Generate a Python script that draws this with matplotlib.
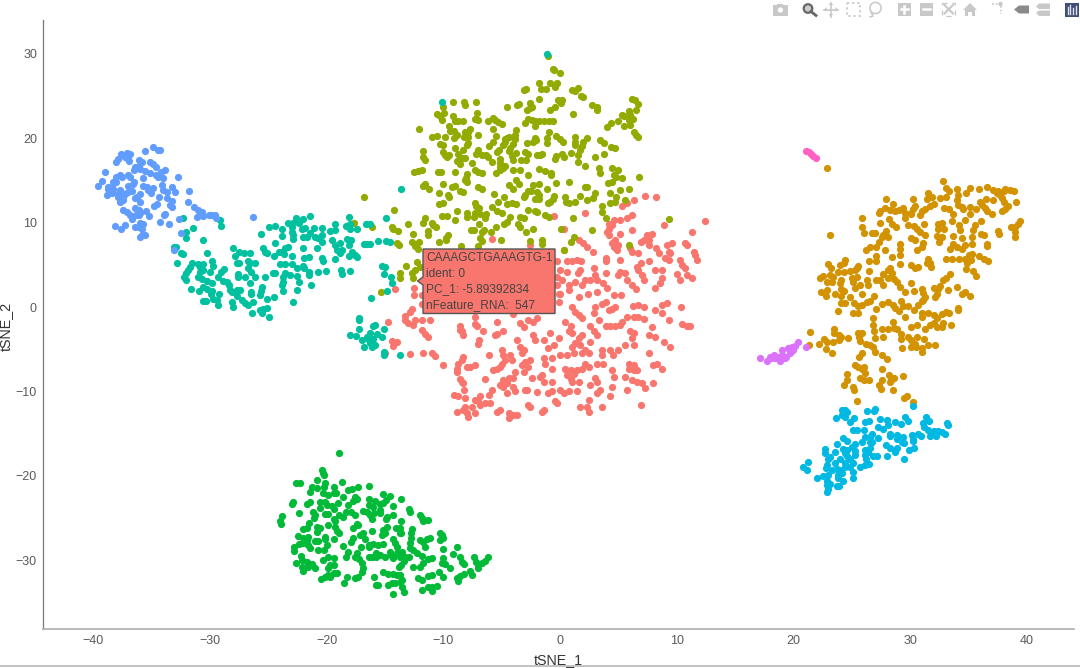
import matplotlib
matplotlib.use("Agg")
import matplotlib.pyplot as plt
from matplotlib.patches import Polygon, Rectangle, Circle
from matplotlib.lines import Line2D
from matplotlib.transforms import Affine2D

plt.rcParams['font.family'] = ['Liberation Sans', 'DejaVu Sans']

cluster_0 = [(7.3,13.2),(8.25,13.1),(5.7,12.3),(5.3,12),(6.3,12.7),(-.55,10.8),(2.16,11.1),(6.16,10.9),(5.7,10.5),(5.16,10.3),(4.6,10.3),(4.16,9.9),(4.45,9.7),(8.9,9.7),(12.4,10.2),(.3,9.3),(4.16,9.3),(4,8.9),(4.16,8.5),(6.2,9.1),(5.1,8.7),(11.3,8.9),(7.9,8.7),(7.45,8.5),(7.16,7.9),(6.9,7.75),(7.6,7.9),(4.7,7.9),(4.45,7.55),(5,7.35),(4.6,7.15),(-5.84,8.1),(-2.55,7.35),(2,7.55),(2.3,7.15),(2.8,6.55),(1.6,7.9),(4.9,6.8),(6,7),(6.16,6.55),(6.7,6.4),(7.6,7.35),(8.2,7),(8.45,6.4),(10.7,7.55),(10.9,7.35),(9.6,7.55),(9.16,7.35),(9.3,6.55),(9.45,6.4),(11.45,6.55),(11.6,6.2),(11.75,5.6),(9,5.8),(9.3,5.6),(10.25,5.6),(10.45,5),(10.7,4.6),(10.9,3.8),(10,3.9),(10.3,3.2),(11.3,3.4),(8.16,4.4),(8.7,4.4),(8.7,3.4),(8.6,2.8),(8.16,2.3),(7.6,5.4),(6.9,5.2),(6.6,4.8),(6.7,4.4),(7,3.8),(7.16,3.2),(5.7,3.2),(6.2,2.6),(6.5,2.1),(5.16,5.6),(3.9,5.8),(3.9,5.4),(5.16,4.2),(5,3.8),(5.6,4),(3.9,4),(3.16,3.2),(3.7,2.8),(2.95,4.6),(3,3.8),(2.6,3.2),(2.16,3.2),(1.9,2.6),(1.7,4.4),(1.5,4),(1.3,3),(.6,5.4),(1,5.5),(1.45,5.6),(1.8,5.4),(.02,4.4),(.6,4.2),(.16,3.2),(.8,2.6),(.73,2),(-.1,1.6),(3.16,1.8),(2.36,1.6),(4,2.2),(4.65,1.4),(5.2,1.4),(1.6,1.2),(-.1,.6),(9.16,.45),(8.7,.2),(10.4,0),(6.25,.1),(6.7,.2),(7.16,0),(3.6,.4),(3.9,.6),(4.7,0),(4.45,-.2),(4.16,-.4),(1,0),(1.3,-.6),(1.6,-1),(1.9,-1.35),(3,0),(2.9,-.7),(8.16,-.35),(8.7,-.75),(9.3,-1.55),(5.7,-1.2),(6.3,-1.15),(6.7,-1.15),(7.2,-1.45),(10.45,-2),(10.9,-2.3),(11.16,-2.3),(.45,-1.74),(.9,-2.3),(.73,-2.9),(1,-3.1),(2.6,-2.26),(3.3,-1.6),(3.9,-2.2),(4.3,-2.2),(4.7,-2.2),(5.3,-1.74),(5.1,-2.15),(6,-2.9),(6.3,-3.1),(6.16,-3.7),(6.3,-4.5),(7.9,-2.35),(7.6,-3.3),(8.16,-3.5),(8.9,-4.1),(9.45,-4.7),(-.84,-3.1),(-2.3,-3.3),(-2.1,-3.9),(-1.4,-3.9),(2.9,-2.9),(3.16,-3.3),(1.9,-3.3),(1.6,-3.7),(-.1,-3.7),(-.55,-4.5),(-1,-4.9),(2.6,-4.1),(1.3,-4.3),(1.7,-4.5),(1,-4.7),(2.16,-5.1),(2.45,-5.5),(1.9,-5.5),(1.16,-5.5),(.6,-5.7),(.02,-5.7),(3.6,-5.1),(4.3,-5.1),(5,-5.1),(5.6,-4.5),(4.5,-5.7),(7.6,-5.5),(3.6,-5.7),(-3.7,-3.9),(-3.4,-4.7),(-3.1,-5.1),(-3.25,-5.5),(-5,-5.1),(-4.84,-5.7),(-4.7,-6.3),(-5,-6.7),(-5.1,-7.1),(-5.4,-7.3),(-5.7,-7.5),(-4.25,-5.7),(-4.1,-6.3),(-6.1,-5.7),(-8.3,-5.9),(-8.4,-6.3),(-8.7,-6.7),(-8.84,-7.3),(-8.84,-7.7),(-10,-6.9),(-8,-7.1),(-7.7,-7.1),(-7.27,-6.9),(-8.55,-8.5),(-8.4,-8.85),(-8.27,-9.05),(-6.4,-8.5),(-3,-6.5),(-2.55,-6.3),(-3.25,-6.9),(-2.7,-7.1),(-3.84,-7.7),(-3.1,-7.7),(-4.84,-8.65),(-4.4,-8.45),(-4,-8.45),(-5.1,-9.25),(-4.84,-9.45),(-4.55,-9.05),(-4,-9.45),(-3.84,-10),(-4.55,-10.2),(-1.55,-8.1),(-1.7,-8.3),(-1.4,-8.85),(-.7,-8.85),(-2.4,-8.45),(-2.84,-9.85),(-2,-10.05),(-3,-9.85),(-1.4,-6.1),(-.7,-6.1),(-1.3,-6.7),(-.7,-7.3),(.45,-7.3),(.9,-7.5),(1.45,-7.5),(1.9,-7.3),(2.16,-6.7),(.6,-8.1),(1.16,-7.9),(.9,-8.5),(1.6,-8.85),(1,-8.85),(.02,-9.85),(.3,-10.2),(.73,-10),(1.45,-10),(-.7,-10),(-1,-10.2),(-.4,-11.2),(-.27,-11.4),(3.16,-6.7),(3.7,-6.7),(4.45,-7.5),(4.6,-8.3),(3,-8.45),(3.16,-8.85),(2.6,-9.25),(2.45,-7.1),(5.9,-6.7),(5.9,-7.3),(6.3,-6.9),(6.3,-7.5),(6.6,-7.5),(5.6,-8.3),(6.16,-8.65),(6.6,-8.85),(7,-9.05),(5.7,-9.85),(7.3,-9.65),(8,-9.05),(8,-6.9),(8.3,-6.7),(8.7,-7.3),(4.45,-9.45),(3.45,-9.85),(3.16,-10.2),(4.3,-10.6),(6.9,-11.6),(2.45,-11),(2.3,-11.8),(2.45,-12.4),(1.7,-11.8),(3.6,-11.8),(-1.4,-12.2),(-1.55,-12.4),(-2.55,-11.8),(-2.7,-11.6),(-9.1,-10.4),(-8.7,-10.6),(-8.1,-10.8),(-7.3,-11),(-6.84,-10.6),(-6.1,-10.4),(-5.84,-9.85),(-8.2,-9.85),(-6.4,-11.4),(-6.84,-11.6),(-7,-11.2),(-8.1,-11.8),(-7.55,-11.8),(-8.27,-12.2),(-8,-12.6),(-7.84,-13),(-7.27,-12.6),(-8.84,-12.4),(-6,-11.4),(-5.4,-12.4),(-5.1,-12.2),(-4.4,-12.6),(-4.4,-13.2),(-4,-12.8),(-3.7,-12.8),(-14.1,2.1),(-12.5,2.3),(-12.5,1.4),(-11.84,1.4),(-11.84,.4),(-12.7,-.2),(-12.84,-.6),(-13.27,-1.1),(-13.27,-1.55),(-13,-1.95),(-12.55,-2.15),(-12.4,-1.55),(-11.84,-1.55),(-11.1,-1.55),(-11.84,-2.75),(-11.55,-3.15),(-11.35,-3.5),(-14.75,-1.8),(-14.4,-4),(-14,-4.2),(-14.3,-4.6),(-15,-5.5),(-12.84,-5.6),(-11.75,-5.5),(-11,-5.5),(-10.7,-5.8),(-8.55,-2.3),(-8.4,-2.9),(-8.3,-3.3),(-8.55,-2.7),(-7.3,-1.15),(-7.3,-2),(-7.15,-2.3),(-6.6,-2.8),(-5.4,-3.2),(-5.6,-3.3),(-4.84,-2.9),(-6.9,-3.9),(-7,-4.4),(-5.4,-1.75),(-3.4,-1.95),(-3.1,-2.35),(-2,-1.35),(-2.3,-1.75),(-2.7,-1.55),(-4,-.85),(-.27,5.4),(-.27,3.6),(-.27,2.6),(.02,1.6),(.36,6.75)]

cluster_1 = [(22.9,16.5),(32.85,14.9),(33.1,14.15),(33.36,13.8),(34,14),(34.1,13.3),(34.05,12.7),(34.1,12.1),(34.8,13.55),(35.15,14.1),(35.9,14),(36.6,14.2),(37.1,13.9),(37.56,13.75),(37.4,13.5),(37.7,13.3),(38.1,13.95),(38.56,13.9),(38.85,13.8),(38,13.7),(37.85,12.9),(38,12.4),(37.1,12.7),(36.5,12.75),(36,12.5),(36.15,12.1),(36.4,11.7),(36.6,11.4),(37,11),(39.05,12.4),(38.4,12),(38.1,11.6),(37.9,11.4),(35.6,11.6),(35.1,11.8),(34.5,11.6),(34.4,11.9),(35.1,11),(33.7,11),(33.36,11.6),(32.9,11.7),(33.1,13.1),(32.56,12.9),(31.85,13.1),(31.4,12.8),(31.5,13.5),(32,12.2),(31.7,12),(31.3,11.6),(31,11.4),(30.85,10.9),(30.2,12.8),(30.4,12),(30.2,11.6),(30.1,11.1),(30.1,11),(29.4,11.7),(29.56,11.1),(29.56,10.6),(29,11.5),(28.7,11.4),(28.3,11.5),(28.5,12.2),(27.85,11.7),(27.4,11.4),(27.3,11.2),(27.9,12.8),(25.85,10.5),(25.9,9.45),(26,8.75),(27.4,10),(28.2,10.4),(28.4,9.8),(28.8,9.45),(26.7,8.75),(27,8.8),(27.9,9.05),(27.7,8.5),(28.1,8.3),(27.56,8.25),(27.3,7.75),(27.1,7.15),(26.56,7.1),(26.2,6.75),(27.85,6.75),(29.1,7.45),(29.1,6.85),(29.1,6.15),(29.85,9.7),(30.3,9.6),(30.56,9.3),(30.85,8.85),(31.3,8.55),(31.2,9.85),(30.1,8.2),(30.4,7.95),(31.1,7.6),(31,7.1),(30.56,6.75),(32.4,9.9),(32.7,10),(32.35,9.25),(32.9,9.3),(32.3,8.45),(32.7,8.25),(32.5,7.75),(33.56,10.2),(34.2,9.7),(34.7,10.3),(33.7,8.45),(34.4,8.15),(35.3,8.35),(34.3,9.1),(36.1,10.2),(35.56,9.7),(35.4,9.1),(36.1,8.7),(36.3,8.5),(37.56,9.05),(37.6,8.65),(38.6,9.45),(39,9.45),(39,8.9),(39,8.25),(39.2,9.9),(39.4,10.2),(36.56,7.5),(36.6,7.25),(33.7,7.5),(33.4,6.9),(34,7.1),(34.4,6.9),(34.7,7.35),(35.3,7.5),(33.1,5.75),(33.56,5.75),(34.15,5.7),(34.7,5.7),(35,6.15),(35.3,6.3),(35.2,5.55),(34.85,5.25),(35.9,6.1),(36.3,5.75),(36.65,5.5),(34.8,4.45),(35.4,4.3),(35.65,3.65),(31.56,5.75),(31.4,5.25),(31.7,5.2),(31.75,4.8),(30.1,5),(30.4,4.6),(30.7,4.8),(29.1,5.1),(28.4,5.9),(27.1,6),(27.1,5.5),(26.5,5.4),(26.5,4.3),(23,5.1),(23.2,4.6),(24,5),(24.3,5.2),(24.45,5.55),(23.85,4.2),(24.3,4.1),(24.85,4.25),(25.3,4.4),(25.56,4.85),(25.4,4.6),(22.3,3.4),(22.56,3.65),(23.1,3.8),(23.4,3.5),(22.85,3),(23.3,3),(24.1,3.2),(24,2.8),(25,3.4),(25.4,3.6),(25.1,3),(25.3,2.2),(25.7,2.6),(26.3,3.2),(26.4,2.6),(27.1,3.2),(27.4,3.2),(27.65,3.9),(28.1,4.4),(28.3,4.6),(28.4,4),(28.1,3.4),(27.65,2.6),(28.6,3.3),(28.85,3),(29.1,2.4),(29.56,1.8),(30.1,2.8),(30.3,1.9),(31,2.1),(31.1,1.7),(31.3,1.2),(33.4,3.9),(33.1,3.4),(32.85,3.2),(32.56,2.5),(32.4,2.1),(32.3,1.6),(32.1,1.2),(32,2.2),(33.2,2),(34,2.4),(34.4,1.55),(34.7,1.8),(35.1,1.35),(22.4,1.8),(22.9,2),(22.8,1.3),(23.56,1.55),(24.1,2.1),(24.3,1.9),(24.1,1.3),(24.85,1.2),(25.85,1.6),(26.9,1.3),(26.56,.75),(26.3,.55),(25.85,.25),(25.56,.15),(25.2,.5),(24.1,.45),(24.4,.5),(23.8,-.5),(25.1,-.75),(25.5,-.75),(27.1,-.25),(27.6,.35),(28.1,.65),(28.5,.25),(28.7,-.15),(29,-.5),(29.2,.7),(29.4,.15),(29.85,.15),(30.3,-.35),(29.56,-1.15),(31,.75),(31.1,.85),(30.7,.25),(31,-.75),(31,-1.2),(31.5,-.75),(32,-.95),(32.3,-1.35),(32.7,-.85),(33.1,-.55),(33.36,-.7),(34.1,-.1),(34.1,-.35),(32.85,-1.95),(33.5,-2.15),(26.85,-1.25),(26.85,-2.15),(26.9,-2.9),(27,-3.7),(28.5,-1.75),(28.6,-2.45),(28.85,-2.65),(29.2,-3.2),(27.56,-2.65),(28.1,-2.55),(27.7,-3.5),(29.2,-3.8),(30.1,-2.35),(30.56,-2.15),(29.85,-3.5),(30.1,-3.9),(30.56,-3.5),(30.4,-4.4),(30.05,-4.8),(30.5,-4.7),(31.05,-4.9),(31.05,-5.3),(31.3,-2.55),(31.7,-2.15),(32,-1.95),(32.3,-2.35),(32.7,-2.35),(31.2,-3.85),(31.56,-4.5),(32.1,-4.5),(29.3,-4.9),(21.4,-3),(21.3,-4.5),(22.2,-4.4),(22.6,-3.85),(22.9,-4.2),(23.35,-4.1),(22.75,-5),(23.3,-5.4),(23.5,-2.6),(23.5,-3.1),(23.9,-3.3),(24.1,-3.5),(23.9,-3.9),(24.65,-3.7),(25.56,-3.1),(25.85,-3.05),(25.65,-3.5),(25.7,-4.05),(26.2,-4.4),(26.56,-4.5),(26.85,-4.8),(27,-5.3),(27.56,-5.7),(28.05,-6.2),(25.9,-5.4),(25.65,-5.9),(25.3,-6.9),(25.56,-7.1),(25.85,-7.3),(26,-7.1),(26.1,-7.85),(27.56,-7.4),(24.56,-8),(24.56,-8.65),(24.3,-9.3),(25.1,-9.45),(25.2,-9.9),(25.7,-8.45),(26,-8.65),(26.5,-8.65),(27.56,-8.65),(28.2,-8.05),(28.35,-8.6),(28.6,-8.45),(28.3,-8.95),(29.4,-8.2),(27.3,-9.3),(27.5,-9.7),(28.5,-9.9),(29.7,-10.6),(29.5,-10.8),(25.4,-11.1),(30.2,-11.3),(23.1,8.55)]

cluster_2 = [(-1.07,29.8),(-.6,28.2),(-.55,28.05),(0,27.8),(-1.84,26.6),(-.84,26.6),(-.27,26.6),(-.4,26.1),(-3.1,25.7),(-2.9,25.8),(-1.64,25.8),(-1.2,25.8),(1.07,25.7),(1.5,26),(1.3,25.6),(1.8,25),(2,24.9),(-1.84,24.7),(-.13,24.5),(.16,24.6),(.1,24.2),(-3.7,24),(-3.5,24.1),(-4.55,23.75),(-2.6,24.2),(-2.4,23.75),(-2.84,23.4),(-2.6,23.55),(-.84,23.4),(-.47,23.75),(2.7,23.95),(3.16,23.75),(3.16,23.4),(6.16,24.7),(6.45,24.5),(6.65,24.1),(6.5,23.4),(5.9,23.2),(6,22.8),(5.3,22.8),(5.5,22.6),(6.25,22.25),(5.9,22.2),(5,22),(4.36,21.8),(4,21.3),(5.5,21.5),(6,21.55),(6.3,20.7),(6.5,20.4),(6.7,20.1),(1.1,22.9),(-2.75,22.3),(-2.4,22.2),(-2.1,22),(-1.8,22),(-1.4,22),(-.9,22),(-.6,22),(-3,21.8),(-2.1,21.5),(-9.2,24.35),(-8.2,24.35),(-8.1,24),(-7.2,24.3),(-10,23.75),(-9.9,23),(-10.5,22.9),(-10.3,22.6),(-10.1,22.2),(-9.2,22.65),(-7.1,23),(-7.3,22.25),(-7,22.2),(-9,22),(-8.7,22),(-8.35,22.1),(-9.55,21.5),(-9.4,20.9),(-9.1,20.9),(-12.1,21.1),(-6.15,22),(-5.75,22.4),(-5.55,22.2),(-5.3,21.9),(-5,21.7),(-5.75,21.1),(-7.7,21.1),(-8.1,20.8),(-7.85,20.7),(-7,20.4),(-8.84,20.4),(-9.1,20),(-9.84,20.2),(-10.5,20.3),(-11,20.1),(-8.2,20.1),(-7.85,20.2),(-5.5,20.3),(-3.75,21),(-3.84,20.4),(-4.4,20.2),(-4.7,19.9),(-3.84,19.9),(-5.7,19.6),(-6.07,19.1),(-10.3,19.3),(-10,19.2),(-9,18.9),(-8,19.2),(-7.85,19.4),(-8.3,18.6),(-8.7,18.2),(-7,18.6),(-7.2,18.2),(-11.7,18.5),(-11.75,17.75),(-11.55,17.4),(-10,18.4),(-9.84,18),(-9.55,18),(-9.7,17.8),(-6.7,18),(-6.35,18),(-6.2,17.8),(-8.4,17.7),(-8.1,17.7),(-8.84,17.35),(-8.6,16.9),(-7.55,17.1),(-5.8,17.25),(-5.25,18.6),(-4.55,20),(-4.7,19.6),(-4.84,19.2),(-5.4,18.4),(-4.25,18.8),(-4.4,18.5),(-4,19.3),(-5.1,17.6),(-4.1,17.9),(-4,17.4),(-3.35,17.4),(-2.9,17.4),(-3.75,18.3),(-3,18.4),(-2.7,18.1),(-2,18),(-1.7,18),(-1.55,18.2),(-2.8,19.5),(-2.1,20),(-2.05,19.8),(-2.3,19.6),(-1.1,20),(-1.1,19.5),(-.9,20.7),(-.3,20.3),(0,19.9),(.25,19.6),(1.3,20.2),(1.3,19.6),(1.3,19.2),(2.3,20),(2,19.6),(1.9,19.1),(1.7,18.6),(1.5,18),(3.45,19.8),(3.8,19.4),(4.36,19),(4.7,18.9),(3.8,18.2),(3,17.8),(1.5,17.15),(2.16,16.7),(-.3,17.9),(-.4,17.5),(.16,18.2),(.36,17.75),(.96,18.3),(-5.1,17.1),(-4.7,16.7),(-4.9,16.45),(-5.1,16.6),(-4,16.25),(-3.4,16.3),(-1.8,16.4),(-1.3,16.1),(-.8,15.9),(-.8,15.65),(-5.5,15.9),(-5.1,16.25),(-7.3,16.25),(-7,16),(-6.7,15.9),(-9,15.95),(-10.47,16),(-10.2,16),(-12.5,16),(-12.2,16.1),(-11.84,16.2),(-8,15.8),(-8.04,15.26),(-8.1,15.06),(-8,14.8),(-3.75,15.1),(-3.47,14.6),(-4.4,14.5),(-4,14),(-2.7,15.6),(-2.3,14.5),(-1.84,14.55),(-.3,14.7),(.73,14.8),(-11.55,14.55),(-11.75,14.4),(-11.2,14),(-10,14.6),(-9.27,14.2),(-9,14.4),(-7,14.25),(-6.64,14.05),(-10.4,13.55),(-9.6,13.3),(-9.55,13.1),(-8.55,13.75),(-8.27,13.65),(-5.64,13.4),(-4.8,13.1),(-5.3,12.5),(-5.8,11.9),(-3,13.3),(-2.7,13.7),(-2.5,13.75),(-3.1,13.1),(-2,13.6),(-1.84,13.3),(-2.1,12.8),(-1.8,12.85),(-1.1,14),(-.55,13.2),(-.6,12.8),(-.84,12.5),(-1.07,12.3),(.4,13.1),(.53,12.4),(.8,12.3),(1.3,12.45),(1.7,13.2),(2.3,14.2),(2.16,14.2),(2.3,12.7),(2.8,12.9),(3,13.5),(4.1,14.7),(4.45,14.85),(4.65,15.7),(4.8,15.45),(5.3,15.25),(4.45,16.45),(5,16.3),(3.3,16.45),(3.4,15.85),(5.1,13.9),(5.9,14),(4.25,13.55),(4.8,13),(3.6,12),(4.3,12.3),(4.7,12.4),(5.6,12.7),(6.8,15.45),(3.6,11.3),(3.9,10.5),(9.3,10.4),(-10.4,12.2),(-10,12.3),(-7.3,12.3),(-7.2,12),(-6.9,11.7),(-5.4,11.4),(-5,11.1),(-4.55,12.2),(-4.1,12.3),(-3.75,12.2),(-8.84,11.4),(-10.1,10.8),(-9.7,10.8),(-8,11.1),(-8,10.7),(-7.27,11.1),(-7.4,10.7),(-6.84,11),(-6.35,11),(-6.4,10.5),(-9,10.3),(-2.75,11.5),(-2.1,11.4),(-2,11.3),(-1.3,10.9),(-.95,10.7),(1.1,10.5),(-4.3,10.7),(-4.55,10.1),(-4.8,9.8),(-3.4,10.7),(-3.1,10.5),(-3.6,9.8),(-3.4,9.5),(-6.9,9.8),(-5.5,9.45),(-5.9,8.95),(-6.55,9.1),(-6.7,8.95),(-7.64,9.1),(-7.4,9.1),(-2.9,8.95),(-2.3,9.2),(.07,9.3),(2.7,9.1),(-14.2,11.5),(-16.75,13.1),(-11.6,10.6),(-11.7,10),(-11,10),(-10.84,9.7),(-10.6,9.45),(-11.3,9),(-11.35,8.5),(-13,9.8),(-12.6,8.7),(-14.4,9.5),(-14.3,9.25),(-13.9,9),(-9.6,8.5),(-9.75,8.15),(-9.8,8),(-10.35,7.7),(-14,7.55),(-13.75,7.4),(-12.7,7.75),(-12.1,7.65),(-12.4,7.25),(-12.2,6.85),(-6.84,8.15),(-6.7,7.8),(-5.05,8),(-2.6,7.8),(-1.5,7.95),(-1.55,7.5),(1.16,8.25),(.9,7.65),(5.9,7.3),(-7,7.2),(-8.5,7.2),(.36,6.8),(-16.1,9.5),(-17.64,10),(-12.27,5.3),(-12,4.8),(-12.4,4.4),(-12.7,4),(-12.6,3.4),(-13.7,4),(-13.7,3.4),(-13.2,4.85),(-15.3,1.75)]

cluster_3 = [(-18.93,-17.27),(-20.4,-19.33),(-20.27,-19.72),(-20.2,-19.92),(-20.84,-20.5),(-22.64,-20.9),(-22.27,-20.83),(-20.13,-20.9),(-18.7,-20.8),(-16.36,-21.2),(-17.33,-21.3),(-17.84,-21.58),(-18.2,-21.7),(-19.4,-21.4),(-20.2,-21.4),(-21.27,-21.4),(-21.4,-21.9),(-20.8,-21.5),(-20.27,-22),(-19.84,-22.3),(-19.4,-22.1),(-19.2,-22),(-15.2,-22.2),(-14.6,-22.4),(-14.9,-22.9),(-13.64,-22.77),(-16.36,-22.8),(-15.84,-23),(-17.6,-22.57),(-17.4,-22.8),(-17.7,-23),(-18.6,-22.57),(-22.84,-23.16),(-23,-23.36),(-21.4,-23.16),(-21.7,-23.36),(-20.6,-23.08),(-20.13,-23.08),(-20,-23.48),(-19,-23.28),(-19.56,-23.6),(-18.13,-23.48),(-20.6,-23.87),(-21.13,-24.27),(-21,-24.66),(-21.04,-24.98),(-22.36,-24.47),(-19.4,-23.98),(-19.84,-24.55),(-20.13,-24.55),(-18.93,-24.66),(-18.56,-24.86),(-18.33,-24.27),(-17.9,-24.35),(-17.56,-24.66),(-16.84,-24.2),(-16.55,-24.27),(-16.4,-23.5),(-16,-23.67),(-15.4,-23.3),(-15.13,-23.2),(-15.4,-24.07),(-15.4,-24.47),(-15.9,-24.47),(-16.27,-24.66),(-16.13,-25.18),(-14.27,-23.56),(-14.33,-24.66),(-14.84,-24.86),(-14.93,-25.18),(-12.9,-24),(-12.84,-24.27),(-12,-24.66),(-11.84,-25),(-11.7,-25.4),(-11.27,-25.26),(-13.6,-25.37),(-23.8,-24.8),(-24,-25.37),(-23.9,-25.73),(-19.4,-25.18),(-19.27,-25.37),(-21.47,-25.65),(-19.84,-25.85),(-20.56,-26.24),(-20.84,-26.13),(-20.84,-26.64),(-21.7,-26.24),(-21.98,-26.36),(-19.27,-26.05),(-19.13,-26.52),(-18.93,-26.84),(-17.76,-26.17),(-17.4,-25.77),(-17.27,-25.85),(-16.13,-26.52),(-15.2,-26.44),(-14.84,-26.13),(-14.07,-26.24),(-13.7,-26.24),(-14.98,-26.84),(-15.27,-27),(-12.7,-26.36),(-12.8,-26.84),(-12.8,-27.43),(-12.84,-28),(-12.84,-28.6),(-12.56,-28.8),(-12.27,-29.2),(-11.84,-29.5),(-16.84,-26.84),(-17.13,-27),(-16.7,-27.55),(-17.76,-27.43),(-17.9,-27.82),(-13.7,-26.84),(-14.27,-27.55),(-14.13,-27.94),(-13.98,-28.42),(-13.64,-26.84),(-22.47,-27.1),(-21.98,-27.35),(-21.56,-27.23),(-21.7,-27.63),(-22.36,-28.1),(-21.98,-28),(-21.56,-28.2),(-21.4,-28.6),(-20.98,-27.8),(-20.76,-27.8),(-20.13,-27.23),(-20.13,-27.55),(-19.35,-27.55),(-20.76,-28.8),(-20.2,-28.8),(-20,-28.2),(-22.76,-28.42),(-22.76,-28.9),(-18.56,-28.34),(-17.07,-28.42),(-18.13,-29),(-18.33,-29.7),(-16.36,-28.2),(-15.98,-28.1),(-15.56,-28.2),(-15.2,-28.1),(-16.36,-28.5),(-17.36,-29.2),(-17.56,-29.7),(-17.2,-29.92),(-16.4,-29.7),(-16.13,-29.6),(-15.8,-29.2),(-15.4,-29.4),(-15.8,-29.7),(-15,-29.6),(-14.56,-29),(-14.47,-29.4),(-14.27,-29.8),(-14,-29.2),(-13.56,-29),(-13.7,-29.6),(-13.27,-29.7),(-12.9,-29.6),(-13.4,-30.08),(-13.6,-30.6),(-13.76,-30.8),(-12.6,-30.87),(-12,-30.8),(-11.7,-30.3),(-11.27,-29.92),(-11,-29.8),(-11.98,-27.63),(-11.7,-27.82),(-11.6,-28.42),(-11.4,-27.55),(-11.13,-27.35),(-10.27,-26.76),(-10.13,-27),(-10,-27.35),(-10.27,-27.63),(-10.04,-28.73),(-8.84,-28.42),(-9.13,-29.3),(-8.6,-29.6),(-8.4,-30.2),(-8.2,-30.5),(-10.04,-29.8),(-10.13,-30.4),(-9.84,-30.47),(-9.4,-31),(-10.4,-31.4),(-11,-31.8),(-11.33,-31.9),(-12.13,-32.17),(-11.84,-32.37),(-10.04,-31.97),(-7.4,-29.7),(-7.2,-30.2),(-7,-30.6),(-7,-31),(-6.7,-30.4),(-6.4,-30.08),(-6.13,-29.6),(-7.7,-31.27),(-7.56,-31.8),(-8.2,-31.7),(-8.56,-31.9),(-8.84,-32.17),(-8.76,-32.5),(-11.84,-33.5),(-11.27,-33.16),(-11,-33.16),(-10.56,-33.08),(-11,-33.64),(-14.27,-34.07),(-13.33,-33.8),(-13.56,-33.16),(-15.8,-32.96),(-15.56,-32.96),(-14.76,-32.96),(-14.4,-32.76),(-14.13,-32.7),(-15.9,-32),(-15.13,-31.47),(-14.76,-31.7),(-14.33,-31.6),(-13.93,-31.78),(-13.7,-31.78),(-13.56,-32.37),(-13.7,-32.57),(-18.47,-32.7),(-18.27,-32),(-17.56,-32.17),(-17.33,-32),(-17,-31.4),(-16.9,-31),(-17,-30.4),(-20.47,-32.3),(-20.13,-32),(-19.7,-32),(-19.4,-31.58),(-19.13,-31.5),(-19.84,-31.8),(-19.84,-31),(-19.7,-30.6),(-19.84,-29.6),(-19.33,-29.8),(-19.4,-30.6),(-20.27,-30),(-22.2,-29.5),(-22.13,-30),(-22.64,-30.3),(-21.7,-30.2),(-22.13,-30.8),(-22,-31.27),(-21.6,-30.8),(-21.27,-30.47),(-21,-31)]

cluster_4 = [(-32.26,10.5),(-31.4,9.4),(-32,8.85),(-32,8.2),(-29.1,10.3),(-29,9.6),(-30.6,8),(-33.1,7.15),(-32.9,7.1),(-32.46,6.45),(-32.3,6.25),(-30.26,6.45),(-32.83,5.2),(-31.5,5.2),(-31,5.05),(-30.55,5.05),(-29.8,5.5),(-29.75,4.85),(-31.7,4.8),(-31.83,4.4),(-32,4),(-32.2,3.6),(-32,3.2),(-30.83,4.8),(-30.83,4.2),(-30.55,4.4),(-31,3.6),(-30.7,3.3),(-30.26,3.1),(-30,4.2),(-28.75,4.5),(-29,4.2),(-29.26,3.6),(-29.8,2.8),(-28.83,3.1),(-28.55,3),(-28.35,2.6),(-28.26,2),(-28.1,1.8),(-31.6,2.1),(-30.9,1.9),(-30.6,2.4),(-30.26,2.1),(-29.83,1.9),(-29.9,1.5),(-29.7,1),(-29.2,1.5),(-29.4,.85),(-29.26,.25),(-30.6,.75),(-30.35,.75),(-28,7),(-27.5,6.55),(-27.1,6.45),(-26.55,6.45),(-27.83,6.1),(-27.7,5.2),(-27.46,5.2),(-26.7,5.45),(-26.55,5.2),(-26.1,5.2),(-26.75,4.6),(-26.46,4.1),(-27.6,3.9),(-27.6,3.5),(-27,3.5),(-26.1,3.6),(-26.55,2.8),(-25.23,3.5),(-24.6,4),(-24.4,4),(-27.4,2),(-27.7,2),(-27.7,1.35),(-26.46,1.8),(-26.46,1.55),(-27.2,.85),(-27,.5),(-26.7,.25),(-26.3,.65),(-28.1,.65),(-28.05,0),(-25.55,2.4),(-25.63,1.9),(-25.7,1.4),(-25.1,.95),(-24.5,1.15),(-22.83,.65),(-25.7,-.35),(-25.4,-.25),(-25.1,-.15),(-25.55,-.75),(-26.4,-.75),(-24.9,-1.15),(-25.1,6.4),(-25.46,7),(-25.26,6.5),(-24.46,6),(-24.1,6.5),(-23.83,6.55),(-23.55,7),(-23.26,7.1),(-23.6,6.25),(-24.4,7.55),(-25.6,8.6),(-24.9,9.45),(-24.4,9.6),(-23.83,9.2),(-23.8,8.4),(-23.26,10),(-22.83,10),(-22.63,10.6),(-22.4,10),(-22.05,10.4),(-21.4,10.8),(-23,9.5),(-23,8.95),(-22.83,8.55),(-22.9,8.05),(-22.1,9.2),(-21.83,9.33),(-21.1,9.33),(-21.4,8.75),(-22,8.35),(-21.7,8.25),(-21,8.35),(-20.7,8.15),(-20.4,9.33),(-20.4,8.55),(-20.35,7.75),(-19.7,9.05),(-19.26,9.13),(-19.26,9.8),(-18.35,9.65),(-18.05,10.7),(-18,9.9),(-18,9.2),(-17.35,9.2),(-19.55,7.95),(-19.26,7.35),(-18.83,7.55),(-19.1,6.75),(-18.7,6.75),(-18.26,8.05),(-17.9,8),(-18.1,7.35),(-17.83,6.55),(-18.1,6.1),(-17.55,6.2),(-17.4,5.9),(-18.83,6.4),(-19.26,5.75),(-20.83,7),(-22,7),(-21.9,5.8),(-21.5,5.9),(-20.4,5.85),(-20.26,5.45),(-24,5.1),(-23.55,5.1),(-23,5.05),(-23,6),(-22,4.85),(-21.9,4.6),(-23.55,4.07),(-23.7,3.6),(-23.7,3),(-23.83,2.6),(-23.1,3.8),(-22.55,4.6),(-22.55,3.7),(-22.4,3),(-22.5,2),(-23.7,1.9),(-21.5,4.1),(-21.5,3.8),(-21.3,2.6),(-20.7,4.1),(-20.05,4.3),(-18.8,4.4),(-18.7,3.9),(-18,4.3),(-16.55,7.5),(-16.75,7.5),(-16.3,7.5),(-15.6,7.85),(-14.9,7.85),(-14.55,7.65),(-16.26,9.8),(-16.6,9.8),(-14.9,10.5),(-13.63,14),(-15.26,4.85),(-15,4.8),(-15.1,3.9),(-14.45,3.5),(-14.35,2.8),(-14.83,1.9),(-16.2,1.1),(-17.26,-1.25),(-17.26,-1.5),(-17.2,-2.6),(-15.83,-2.1),(-16,-2.2),(-15.1,-2.65),(-18,-3.3),(-17.5,-3.4),(-16.26,-3.1),(-15.7,-3.25),(-15.26,-3.6),(-16.55,-3.5),(-17,-3.9),(-16.4,-3.9),(-16,-3.8),(-16.26,-4.3),(-15.83,-4.5),(-16.8,-4.8),(-16.1,-4.8),(-15.05,-5.3),(-15.1,-5.7),(-13.7,-5.75),(-10.07,24.3),(-1.1,29.95)]

cluster_5 = [(30.2,-11.74),(24.13,-12.2),(24.4,-12.2),(24.56,-12.4),(24.13,-12.8),(24.4,-13),(24.8,-13.6),(25.2,-13.2),(23.6,-13.2),(26.33,-12.34),(27,-12.1),(26.9,-12.3),(26.13,-13.6),(26.5,-13.5),(27.4,-13.3),(28,-13.4),(28.07,-14),(27.2,-14.2),(27.64,-14.5),(28.7,-13.6),(29.2,-13.9),(29.56,-13.1),(29.84,-13.5),(31.36,-13.1),(31.64,-13.5),(31.13,-13.8),(31.2,-14.2),(33.13,-13.8),(33.2,-14),(25.13,-14.6),(25.4,-14.6),(26,-14.6),(26.7,-15),(26.13,-15.4),(26.56,-15.4),(27.2,-15.5),(28.27,-15),(28.27,-15.26),(28.84,-15.2),(28.84,-15.6),(29.4,-15.4),(30.13,-15.2),(30.7,-15),(30.9,-15.26),(30.27,-15.7),(30.2,-15.9),(31.56,-14.6),(32,-14.7),(32.4,-14.7),(32.7,-14.8),(33,-15),(31.7,-15.26),(32.2,-15.26),(24.2,-15.5),(24.56,-15.9),(23.76,-16.3),(25.27,-16.2),(25,-16.56),(25.84,-16),(26.56,-16),(26.7,-16),(27.93,-16.4),(28.27,-16.76),(28.7,-17.16),(28.9,-16.7),(29.27,-16.05),(29.47,-16.17),(29.93,-16.9),(30.36,-16.76),(28,-17.63),(29.47,-18),(22.7,-16.84),(22.7,-17.36),(23.56,-17.16),(24.27,-16.84),(24.6,-17),(24.4,-17.36),(24.56,-17.63),(25.27,-17.1),(25.27,-17.56),(26.13,-17),(26.56,-16.76),(26.4,-17.24),(26.13,-17.56),(26.2,-18),(23.13,-17.75),(23,-18),(24,-18),(23.56,-18.54),(21.27,-18.4),(20.84,-18.94),(21.13,-19.33),(22.84,-18.74),(22.8,-19.13),(26.84,-17.63),(27.13,-17.67),(24.8,-18),(24.4,-18.54),(25.13,-18.54),(24.84,-18.94),(24.4,-18.94),(25.7,-18.94),(26.13,-18.74),(26.5,-18.67),(23.27,-19.33),(23.7,-19.2),(24,-19.33),(24.13,-19.73),(23.84,-19.93),(23,-19.93),(22.56,-20),(22.04,-20.24),(25.13,-19.6),(25.13,-20.24),(24.27,-20.64),(22.84,-20.64),(22.84,-21.1),(23.13,-21),(23,-21.6),(22.84,-21.9),(23.7,-21.2),(23.93,-21.2),(23.84,-20.3)]

cluster_6 = [(-34.83,19),(-34.4,18.6),(-34.26,18.65),(-35.55,18.5),(-37.63,18.2),(-37.1,18.3),(-36.83,18.2),(-37,17.6),(-37.83,17.55),(-38,17.15),(-36.9,17.3),(-37.3,17.8),(-36.1,17.4),(-35.8,17.2),(-35.1,17.2),(-34.9,17),(-36.4,16.65),(-36.1,16.75),(-34.6,16.55),(-33.8,16.25),(-34.2,16.05),(-39,16.05),(-36.5,16.3),(-36,16.4),(-35.55,16.1),(-35.1,15.85),(-34.6,15.65),(-34.4,15.45),(-34,15.35),(-32.7,15.4),(-38,15.45),(-37.7,15.65),(-37.55,15.45),(-37,15.6),(-36.83,15.45),(-35.75,15.25),(-39.2,14.95),(-38.26,14.85),(-38,14.85),(-36.5,14.85),(-36.55,14.55),(-37,14.3),(-39.6,14.35),(-38.7,14.25),(-38.4,14.25),(-38.75,13.95),(-38.26,13.95),(-35.75,14.4),(-35.4,14.25),(-34.83,14.15),(-35.3,13.9),(-34.1,14.5),(-34,13.9),(-33.2,14.25),(-31.8,13.8),(-33,13.6),(-33.7,13.6),(-35,13.5),(-36,13.35),(-36.26,13.1),(-36.4,12.9),(-34.35,13.1),(-33.7,12.9),(-38.83,13.3),(-38.4,13.5),(-37.7,13.9),(-37.83,13.35),(-37.55,13.5),(-37.26,13.35),(-37,13.6),(-36.7,13.7),(-37.83,13),(-37.4,13.1),(-37.7,12.5),(-37.4,12.7),(-36,12.5),(-31.83,12.4),(-33.26,12.55),(-33.4,12.1),(-33.26,11.9),(-34.55,12.2),(-34.75,12),(-37.4,11.5),(-37.1,11.25),(-36.4,11.7),(-36.1,11.5),(-36,11.1),(-35.45,11.4),(-35.2,10.8),(-36.83,10.9),(-36.7,10.45),(-33.83,11),(-33.9,10.9),(-36.3,10.9),(-36.1,10.9),(-31.35,11.9),(-31,11.5),(-30.7,11.25),(-30.83,10.9),(-30.55,10.8),(-31.1,10.65),(-30.1,10.9),(-29.9,10.9),(-29.55,10.9),(-29.5,10.6),(-34.3,10.1),(-33.5,9.85),(-32.6,10.45),(-26.3,10.7),(-38.1,9.65),(-37.63,9.25),(-37.3,9.75),(-36,10),(-35.7,9.9),(-36.4,9.5),(-36.1,9.5),(-35.83,9.3),(-36,8.35),(-35.8,8.55),(-35.55,8.55),(-32.46,8.8),(-33.1,6.7)]

cluster_7 = [(17.1,-6),(17.7,-6.4),(17.97,-5.9),(18.3,-5.7),(18.56,-5.9),(18.85,-6.4),(19,-5.1),(19,-5.7),(19.3,-6.1),(19.56,-4.9),(19.85,-4.7),(20.1,-4.6),(19.7,-5.5),(20,-5.1),(20.4,-4.1),(21.1,-4.8),(18.1,-6.1),(18.4,-6.1),(18.7,-6.1),(19.1,-6.1),(19.4,-5.9),(19.7,-5.1),(19.9,-4.9)]

cluster_8 = [(21.1,18.5),(21.3,18.35),(21.5,18.2),(21.7,17.95),(21.9,17.7)]

clusters = [cluster_0, cluster_1, cluster_2, cluster_3, cluster_4,
            cluster_5, cluster_6, cluster_7, cluster_8]
colors = ['#F8766D', '#D39200', '#93AA00', '#00BA38', '#00C19F',
          '#00B9E3', '#619CFF', '#DB72FB', '#FF61C3']

x_ticks = [-40, -30, -20, -10, 0, 10, 20, 30, 40]
y_ticks = [-30, -20, -10, 0, 10, 20, 30]
tooltip_lines = ['CAAAGCTGAAAGTG-1', 'ident: 0', 'PC_1: -5.89392834', 'nFeature_RNA:  547']

W, H = 1080, 668
fig = plt.figure(figsize=(W/100, H/100), dpi=100, facecolor='white')
ax = fig.add_axes([42.5/W, 1-628.5/H, (1074-42.5)/W, (628.5-20)/H])
ax.set_xlim(-44.33, 44.03)
ax.set_ylim(-38.12, 34.03)

for pts, col in zip(clusters, colors):
    ax.scatter([p[0] for p in pts], [p[1] for p in pts], s=27, c=col,
               linewidths=0, zorder=3)

ax.set_xticks(x_ticks)
ax.set_yticks(y_ticks)
ax.set_xticklabels([str(v).replace('-', '\u2212') for v in x_ticks])
ax.set_yticklabels([str(v).replace('-', '\u2212') for v in y_ticks])
ax.tick_params(axis='both', length=0, labelsize=9, labelcolor='#5a5a5a', pad=4)
ax.tick_params(axis='x', pad=5)
for s in ('top', 'right'):
    ax.spines[s].set_visible(False)
ax.spines['left'].set_color('#777777')
ax.spines['left'].set_linewidth(0.9)
ax.spines['bottom'].set_color('#b3b3b3')
ax.spines['bottom'].set_linewidth(1.3)

# pixel-space overlay (y down)
pix = Affine2D().scale(1, -1).translate(0, H)

fig.text(558/W, 1-660/H, 'tSNE_1', ha='center', va='center', fontsize=10.3, color='#333333')
fig.text(6/W, 1-326/H, 'tSNE_2', ha='center', va='center', rotation=90, fontsize=10.3, color='#333333')

# bottom screen rule
fig.add_artist(Line2D([0, W], [666, 666], transform=pix, color='#bdbdbd', lw=1.3))

# hover tooltip
tip = Polygon([(423, 249), (555, 249), (555, 313.5), (423, 313.5), (423, 285), (417.5, 281), (423, 277)],
              closed=True, transform=pix, facecolor='#F8766D', edgecolor='#555555', lw=1.0, zorder=5)
fig.add_artist(tip)
for line, y in zip(tooltip_lines, [258, 273.5, 289.5, 305]):
    t = fig.text(426/W, 1-y/H, line, ha='left', va='center', fontsize=8.6, color='#444444', zorder=6)

# modebar
g = '#c8c8c8'
def add(a):
    a.set_transform(pix)
    a.set_zorder(7)
    fig.add_artist(a)

def R(x, y, w, h, c=g, **k):
    add(Rectangle((x, y), w, h, facecolor=c, edgecolor='none', **k))

def L(xs, ys, c=g, lw=1.2, **k):
    add(Line2D(xs, ys, color=c, lw=lw, **k))

# camera
R(773, 5, 15, 10.5)
R(777, 3.5, 6, 2)
add(Circle((780.5, 10), 2.6, facecolor='white', edgecolor='none'))
# zoom (active)
add(Circle((808, 8.5), 4.3, facecolor='#cccccc', edgecolor='#666666', lw=1.6))
L([811, 816], [11.5, 15.5], c='#666666', lw=2.0)
# pan
L([824, 838], [9.5, 9.5], lw=1.2)
L([831, 831], [2.5, 16.5], lw=1.2)
add(Polygon([(824, 9.5), (826.5, 7), (826.5, 12)], facecolor=g))
add(Polygon([(838, 9.5), (835.5, 7), (835.5, 12)], facecolor=g))
add(Polygon([(831, 2.5), (828.5, 5), (833.5, 5)], facecolor=g))
add(Polygon([(831, 16.5), (828.5, 14), (833.5, 14)], facecolor=g))
# box select
add(Rectangle((846.5, 3), 13.5, 13, facecolor='none', edgecolor=g, lw=1.3, ls=(0, (1.2, 1.6))))
# lasso
add(Circle((875.5, 8), 5.6, facecolor='none', edgecolor=g, lw=1.1))
L([871, 873, 870], [12, 16, 17], lw=1.1)
# plus / minus
R(898, 3, 12.5, 12.5)
L([900.5, 908], [9.2, 9.2], c='white', lw=1.8)
L([904.2, 904.2], [5.5, 13], c='white', lw=1.8)
R(920, 3, 12.5, 12.5)
L([922.5, 930], [9.2, 9.2], c='white', lw=1.8)
# autoscale
add(Rectangle((942, 2.5), 13, 13.5, facecolor='none', edgecolor=g, lw=0.9, ls=(0, (4, 4))))
L([944.5, 953], [5, 13.5], lw=1.5)
L([953, 944.5], [5, 13.5], lw=1.5)
# home
add(Polygon([(963, 10), (970, 3), (977, 10), (975, 10), (975, 16), (972, 16), (972, 12), (968, 12), (968, 16), (965, 16), (965, 10)], facecolor=g))
# spikes
L([992, 999], [4, 4], lw=1.1, ls=(0, (1.2, 1.2)))
L([1000.5, 1000.5], [6, 14], lw=1.1, ls=(0, (1.2, 1.2)))
add(Circle((1000.5, 4), 2.2, facecolor=g))
# closest
add(Polygon([(1014, 9.5), (1019, 5.5), (1029, 5.5), (1029, 13.5), (1019, 13.5)], facecolor='#8a8a8a'))
# compare
add(Polygon([(1036, 6.5), (1039, 3.5), (1050, 3.5), (1050, 9), (1039, 9)], facecolor=g))
add(Polygon([(1036, 13), (1039, 10.5), (1050, 10.5), (1050, 16), (1039, 16)], facecolor=g))
# logo
R(1065, 2.5, 14, 14, c='#3f4f75')
for bx, top in zip([1067.5, 1070.2, 1072.8, 1075.5], [7, 5, 8, 6]):
    L([bx, bx], [top, 14], c='#dfe3ec', lw=1.0)

fig.savefig('out.png', dpi=100, facecolor='white')
